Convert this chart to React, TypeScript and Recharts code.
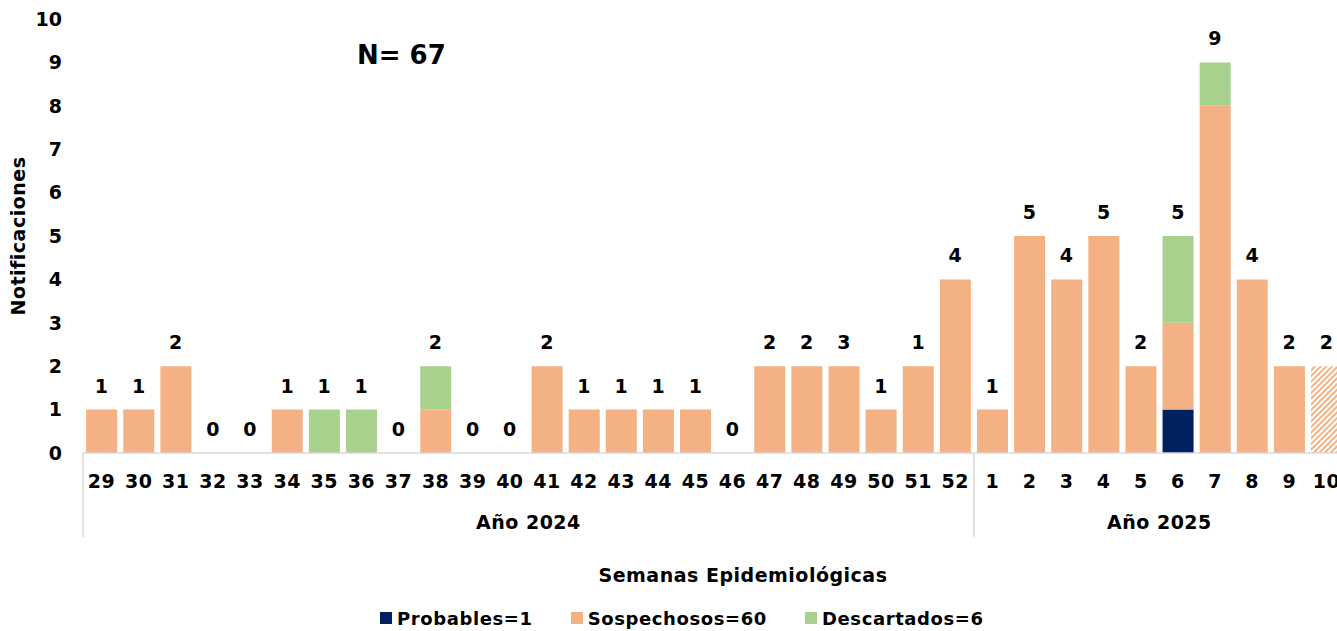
import React from 'react';
import { BarChart, Bar, XAxis, YAxis, Legend, LabelList, Cell } from 'recharts';

const weeks = ['29','30','31','32','33','34','35','36','37','38','39','40','41','42','43','44','45','46','47','48','49','50','51','52','1','2','3','4','5','6','7','8','9','10'];
const probables = [0,0,0,0,0,0,0,0,0,0,0,0,0,0,0,0,0,0,0,0,0,0,0,0, 0,0,0,0,0,1,0,0,0,0];
const sospechosos = [1,1,2,0,0,1,0,0,0,1,0,0,2,1,1,1,1,0,2,2,2,1,2,4, 1,5,4,5,2,2,8,4,2,2];
const descartados = [0,0,0,0,0,0,1,1,0,1,0,0,0,0,0,0,0,0,0,0,0,0,0,0, 0,0,0,0,0,2,1,0,0,0];
const barLabels = [1,1,2,0,0,1,1,1,0,2,0,0,2,1,1,1,1,0,2,2,3,1,1,4, 1,5,4,5,2,5,9,4,2,2];
const partialWeeks = ['10'];
const yearLabels = ['Año 2024', 'Año 2025'];
const yearSpans = [24, 10];
const yTicks = [0,1,2,3,4,5,6,7,8,9,10];
const legendNames = ['Probables=1', 'Sospechosos=60', 'Descartados=6'];
const totalLabel = 'N= 67';

const FONT = '"DejaVu Sans", sans-serif';
const FS = 19;
const LS = 0.5;
const NAVY = '#002060';
const ORANGE = '#F4B183';
const GREEN = '#A9D18E';
const AXIS = '#D9D9D9';

const data = weeks.map((w, i) => ({
  week: w,
  pos: i + 0.5,
  probables: probables[i],
  sospechosos: sospechosos[i],
  descartados: descartados[i],
  total: probables[i] + sospechosos[i] + descartados[i],
  label: barLabels[i],
}));

const boundaries: number[] = [0];
const centers: number[] = [];
yearSpans.forEach((s, i) => {
  const start = boundaries[i];
  centers.push(start + s / 2);
  boundaries.push(start + s);
});
const yearTicks = [...boundaries, ...centers].sort((a, b) => a - b);

const textStyle = { fontFamily: FONT, fontSize: FS, fontWeight: 700, fill: '#000', letterSpacing: LS } as any;

const WeekTick = (props: any) => {
  const { x, y, payload } = props;
  return (
    <text x={x} y={y + 28} textAnchor="middle" dominantBaseline="central" style={textStyle}>
      {payload.value}
    </text>
  );
};

const YearTick = (props: any) => {
  const { x, y, payload } = props;
  const v = payload.value;
  const ci = centers.indexOf(v);
  if (ci >= 0) {
    return (
      <text x={x} y={y + 24} textAnchor="middle" dominantBaseline="central" style={textStyle}>
        {yearLabels[ci]}
      </text>
    );
  }
  return <line x1={x} x2={x} y1={y - 45} y2={y + 39} stroke={AXIS} strokeWidth={1.5} />;
};

const BarTopLabel = (props: any) => {
  const { x, y, width, value } = props;
  return (
    <text x={x + width / 2} y={y - 24} textAnchor="middle" dominantBaseline="central" style={textStyle}>
      {value}
    </text>
  );
};

const LegendContent = () => {
  const colors = [NAVY, ORANGE, GREEN];
  return (
    <div style={{ display: 'flex', alignItems: 'center', fontFamily: FONT, fontSize: 18, fontWeight: 700, letterSpacing: 0.6, color: '#000', height: 26 }}>
      {legendNames.map((n, i) => (
        <div key={n} style={{ display: 'flex', alignItems: 'center', marginRight: 38 }}>
          <span style={{ display: 'inline-block', width: 12, height: 12, background: colors[i], marginRight: 5 }} />
          <span>{n}</span>
        </div>
      ))}
    </div>
  );
};

export default function App() {
  return (
    <div style={{ position: 'absolute', left: 0, top: 0, width: 1337, height: 631, overflow: 'hidden', background: '#fff', fontFamily: FONT }}>
      <BarChart width={1350} height={631} data={data} margin={{ top: 19, right: 5, bottom: 0, left: 40 }} barCategoryGap="8.5%">
        <defs>
          <pattern id="hatch" patternUnits="userSpaceOnUse" width="4" height="4" patternTransform="rotate(45)">
            <rect x="0" y="0" width="4" height="4" fill="#fff" />
            <rect x="0" y="0" width="2" height="4" fill={ORANGE} />
          </pattern>
        </defs>
        <XAxis xAxisId="wk" dataKey="week" type="category" height={45} interval={0}
          tickSize={0} tickMargin={0} tickLine={false} axisLine={{ stroke: AXIS, strokeWidth: 1.5 }} tick={<WeekTick />} />
        <XAxis xAxisId="yr" dataKey="pos" type="number" domain={[0, weeks.length]} allowDataOverflow ticks={yearTicks} interval={0}
          height={107} tickSize={0} tickMargin={0} tickLine={false} axisLine={false} tick={<YearTick />}
          label={{
            content: (p: any) => {
              const vb = p.viewBox;
              return (
                <text x={vb.x + vb.width / 2 + 29} y={vb.y + 77} textAnchor="middle" dominantBaseline="central" style={textStyle}>
                  Semanas Epidemiológicas
                </text>
              );
            },
          }} />
        <XAxis xAxisId="lbl" dataKey="week" type="category" hide height={0} />
        <YAxis domain={[0, 10]} ticks={yTicks} interval={0} width={43} axisLine={false} tickLine={false}
          tickSize={0} tickMargin={21}
          tick={{ fill: '#000', fontSize: FS, fontWeight: 700, fontFamily: FONT }}
          label={{
            content: (p: any) => {
              const vb = p.viewBox;
              const cy = vb.y + vb.height / 2;
              return (
                <text x={18} y={cy} transform={`rotate(-90, 18, ${cy})`} textAnchor="middle" dominantBaseline="central" style={textStyle}>
                  Notificaciones
                </text>
              );
            },
          }} />
        <Legend verticalAlign="bottom" content={<LegendContent />} wrapperStyle={{ left: 380, width: 'auto' }} />
        <Bar xAxisId="wk" dataKey="probables" name={legendNames[0]} stackId="a" fill={NAVY} isAnimationActive={false} />
        <Bar xAxisId="wk" dataKey="sospechosos" name={legendNames[1]} stackId="a" fill={ORANGE} isAnimationActive={false}>
          {data.map((d) => (
            <Cell key={d.week} fill={partialWeeks.includes(d.week) ? 'url(#hatch)' : ORANGE} />
          ))}
        </Bar>
        <Bar xAxisId="wk" dataKey="descartados" name={legendNames[2]} stackId="a" fill={GREEN} isAnimationActive={false} />
        <Bar xAxisId="lbl" dataKey="total" fill="none" legendType="none" minPointSize={0.01} isAnimationActive={false}>
          <LabelList dataKey="label" content={<BarTopLabel />} />
        </Bar>
      </BarChart>
      <div style={{ position: 'absolute', left: 357, top: 38, fontFamily: FONT, fontSize: 26, fontWeight: 700, color: '#000', lineHeight: '34px' }}>
        {totalLabel}
      </div>
    </div>
  );
}
